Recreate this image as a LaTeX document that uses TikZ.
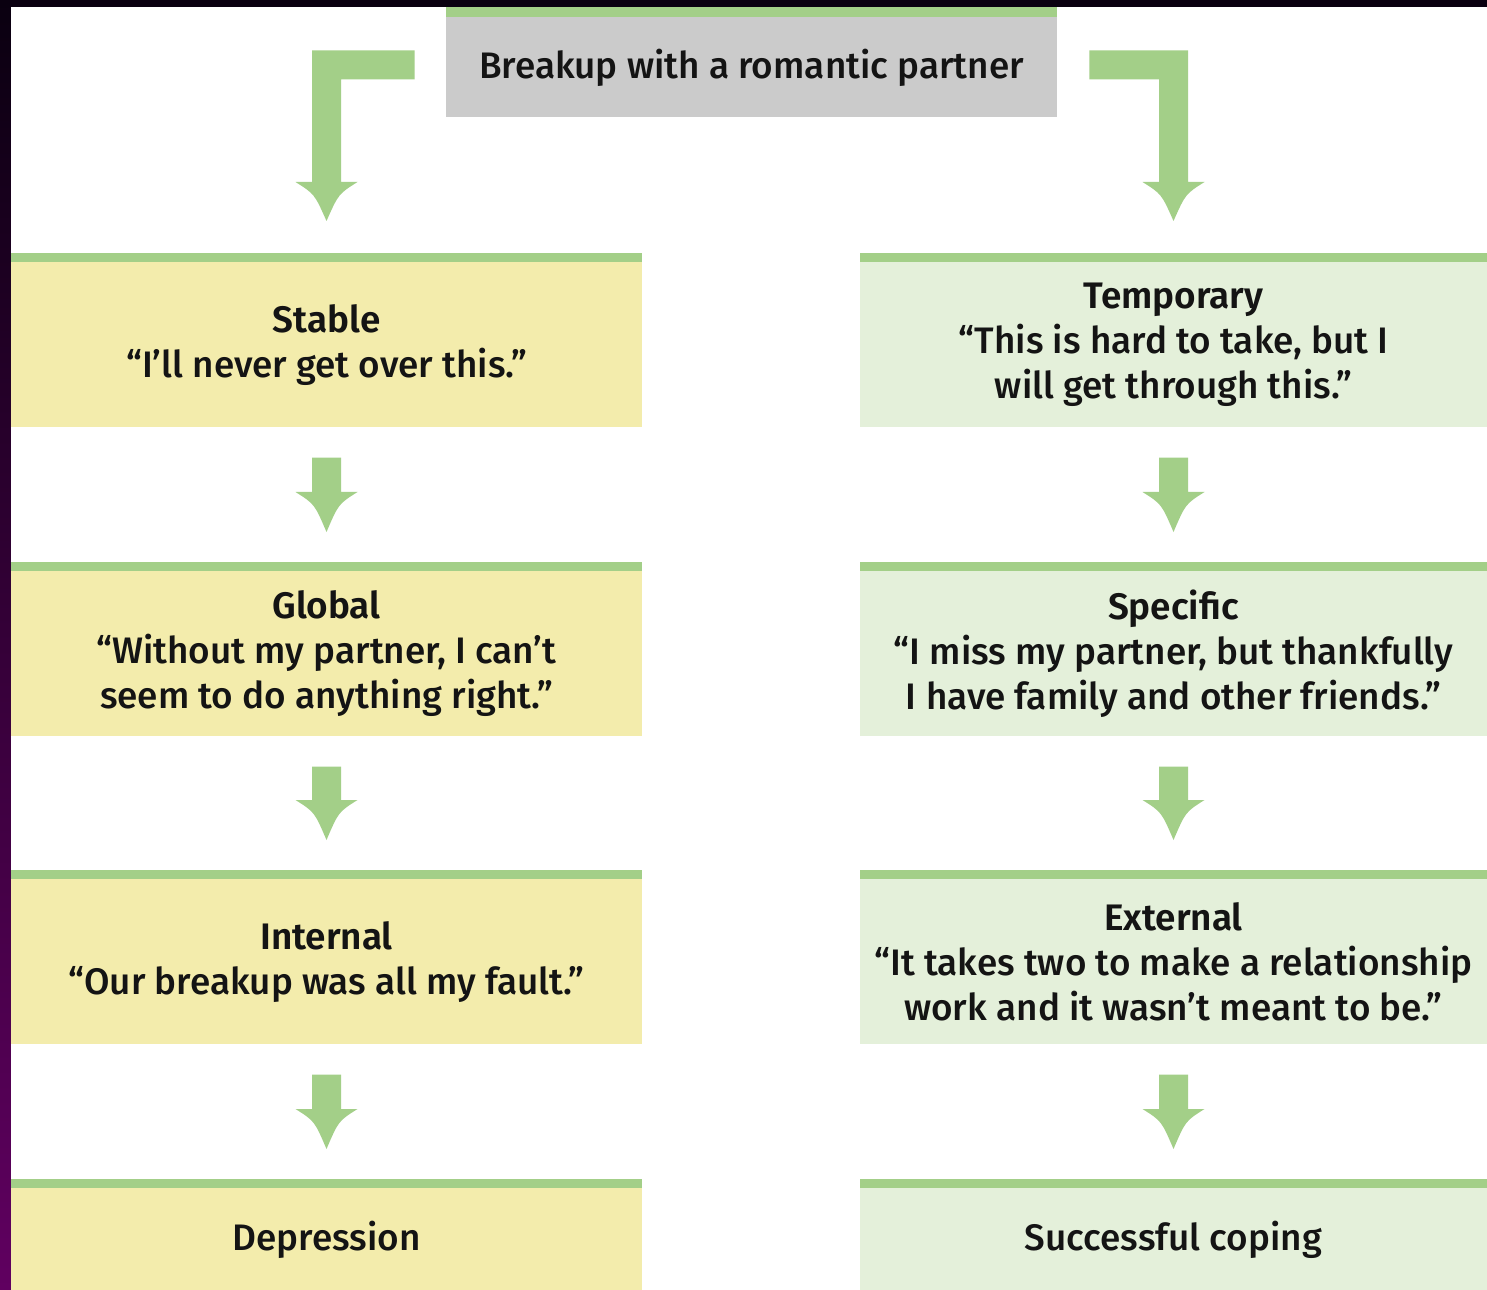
\documentclass[tikz,border=0pt]{standalone}
\usepackage{fontspec}
\setmainfont{Fira Sans}[UprightFont=* Medium, BoldFont=* SemiBold]
\usetikzlibrary{calc}
\definecolor{flowgreen}{RGB}{163,207,136}
\definecolor{stableyellow}{RGB}{243,236,172}
\definecolor{copegreen}{RGB}{228,240,218}
\definecolor{headgray}{RGB}{203,203,203}
\definecolor{framedark}{RGB}{10,0,16}
\definecolor{framepurple}{RGB}{96,0,96}
\tikzset{
  boxtext/.style={align=center, inner sep=0pt, text=black!92, font=\fontsize{21}{25.6}\selectfont},
  leftbox/.style={boxtext, anchor=north, fill=stableyellow, minimum width=12.62cm, minimum height=3.30cm},
  rightbox/.style={boxtext, anchor=north, fill=copegreen, minimum width=12.54cm, minimum height=3.30cm},
  topbox/.style={boxtext, anchor=north, fill=headgray, minimum width=12.22cm, minimum height=2.0cm},
  flow/.style={fill=flowgreen}
}
% straight block arrow from the bottom of #1 to the top of #2
\newcommand{\flowarrow}[2]{%
  \fill[flow] ($(#1.south)+(-14.5,30)$) -- ($(#2.north)+(-14.5,-79)$) -- ($(#2.north)+(-31,-79)$)
    .. controls ($(#2.north)+(-12,-67)$) .. ($(#2.north)+(0,-39)$)
    .. controls ($(#2.north)+(12,-67)$) .. ($(#2.north)+(31,-79)$)
    -- ($(#2.north)+(14.5,-79)$) -- ($(#1.south)+(14.5,30)$) -- cycle;}
\begin{document}
\begin{tikzpicture}[x=0.02cm, y=-0.02cm]
    \useasboundingbox (0,0) rectangle (1487,1290);
    % frame
    \fill[framedark] (0,0) rectangle (1487,1290);
    \shade[top color=framedark, bottom color=framepurple] (0,0) rectangle (11,1290);
    \fill[white] (11,7) rectangle (1487,1290);
    % boxes
    \node[topbox] (breakup) at (751.5,17) {Breakup with a romantic partner};
    \node[leftbox] (stable) at (326.5,262) {\textbf{Stable}\\“I’ll never get over this.”};
    \node[leftbox] (global) at (326.5,571) {\textbf{Global}\\“Without my partner, I can’t\\seem to do anything right.”};
    \node[leftbox] (internal) at (326.5,879) {\textbf{Internal}\\“Our breakup was all my fault.”};
    \node[leftbox, minimum height=2.04cm] (depression) at (326.5,1188) {Depression};
    \node[rightbox] (temporary) at (1173.5,262) {\textbf{Temporary}\\“This is hard to take, but I\\will get through this.”};
    \node[rightbox] (specific) at (1173.5,571) {\textbf{Specific}\\“I miss my partner, but thankfully\\I have family and other friends.”};
    \node[rightbox] (external) at (1173.5,879) {\textbf{External}\\“It takes two to make a relationship\\work and it wasn’t meant to be.”};
    \node[rightbox, minimum height=2.04cm] (coping) at (1173.5,1188) {Successful coping};
    % green strips on top of the boxes
    \fill[flowgreen] ($(breakup.north west)+(0,-10)$) rectangle (breakup.north east);
    \foreach \b in {stable,global,internal,depression,temporary,specific,external,coping}
        \fill[flowgreen] ($(\b.north west)+(0,-9)$) rectangle (\b.north east);
    % L-shaped arrows
    \fill[flow] ($(breakup.west)+(-31,-17)$) -- ($(stable.north |- breakup.west)+(-14.5,-17)$)
        -- ($(stable.north)+(-14.5,-80)$) -- ($(stable.north)+(-31,-80)$)
        .. controls ($(stable.north)+(-12,-68)$) .. ($(stable.north)+(0,-41)$)
        .. controls ($(stable.north)+(12,-68)$) .. ($(stable.north)+(31,-80)$)
        -- ($(stable.north)+(14.5,-80)$) -- ($(stable.north |- breakup.west)+(14.5,12)$)
        -- ($(breakup.west)+(-31,12)$) -- cycle;
    \fill[flow] ($(breakup.east)+(32,-17)$) -- ($(temporary.north |- breakup.east)+(14.5,-17)$)
        -- ($(temporary.north)+(14.5,-80)$) -- ($(temporary.north)+(31,-80)$)
        .. controls ($(temporary.north)+(12,-68)$) .. ($(temporary.north)+(0,-41)$)
        .. controls ($(temporary.north)+(-12,-68)$) .. ($(temporary.north)+(-31,-80)$)
        -- ($(temporary.north)+(-14.5,-80)$) -- ($(temporary.north |- breakup.east)+(-14.5,12)$)
        -- ($(breakup.east)+(32,12)$) -- cycle;
    % straight arrows
    \flowarrow{stable}{global}
    \flowarrow{global}{internal}
    \flowarrow{internal}{depression}
    \flowarrow{temporary}{specific}
    \flowarrow{specific}{external}
    \flowarrow{external}{coping}
\end{tikzpicture}
\end{document}
